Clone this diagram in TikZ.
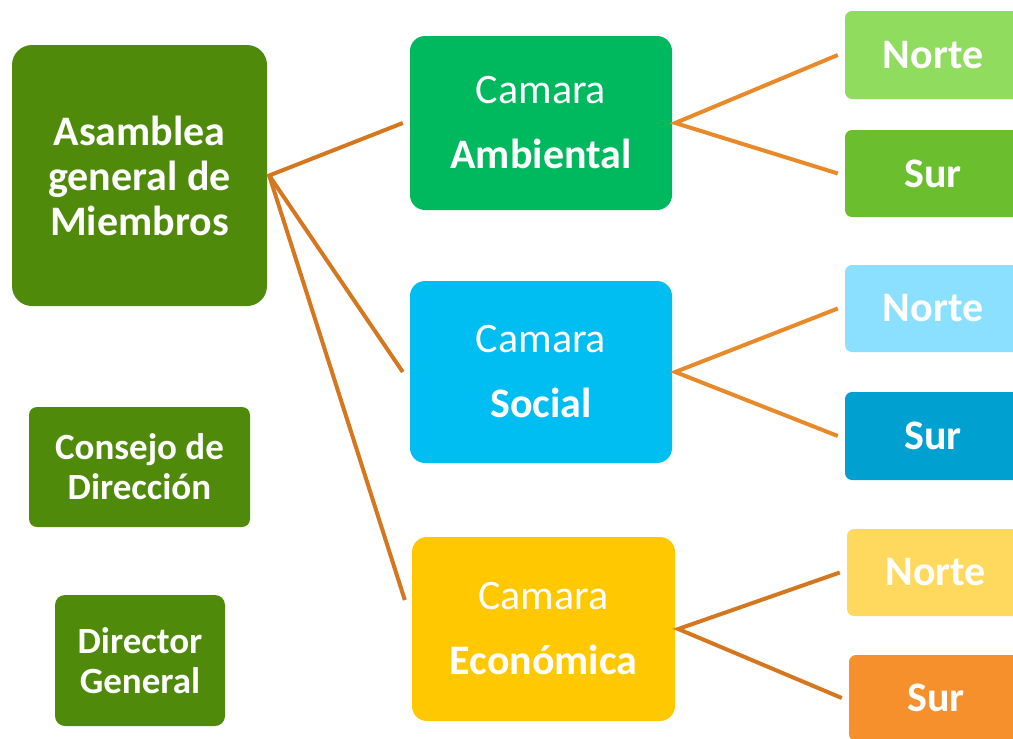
\documentclass[tikz,border=0pt]{standalone}
\usepackage{fontspec}
\setmainfont{Carlito}

\definecolor{verdeA}{HTML}{4F8A0B}
\definecolor{camAmb}{HTML}{00B85E}
\definecolor{camSoc}{HTML}{00BEF2}
\definecolor{camEco}{HTML}{FFC800}
\definecolor{norteAmb}{HTML}{8FDC5E}
\definecolor{surAmb}{HTML}{6BBF2F}
\definecolor{norteSoc}{HTML}{8CE0FF}
\definecolor{surSoc}{HTML}{00A1D0}
\definecolor{norteEco}{HTML}{FFD85E}
\definecolor{surEco}{HTML}{F6902D}
\definecolor{lineaOsc}{HTML}{D4771F}
\definecolor{lineaCla}{HTML}{E8892A}

\begin{document}
\begin{tikzpicture}[x=1pt, y=-1pt,
    box/.style={rounded corners=15pt, text=white, align=center, inner sep=0pt},
    bigbold/.style={font=\fontsize{42}{45}\selectfont\bfseries},
    camfont/.style={font=\fontsize{42}{65}\selectfont},
    smallbold/.style={font=\fontsize{37}{40}\selectfont\bfseries},
    zona/.style={box, rounded corners=7pt, minimum width=176pt, minimum height=87pt, bigbold},
    link/.style={line width=4pt}]
    % Page frame
    \useasboundingbox (0,0) rectangle (1013,739);
    \clip (0,0) rectangle (1013,739);

    % Left column
    \node[box, fill=verdeA, rounded corners=20pt, minimum width=255pt, minimum height=261pt, bigbold]
        (asamblea) at (139.5,175.5) {Asamblea\\general de\\Miembros};
    \node[box, fill=verdeA, rounded corners=8pt, minimum width=221pt, minimum height=120pt, smallbold]
        (consejo) at (139.5,467) {Consejo de\\Dirección};
    \node[box, fill=verdeA, rounded corners=10pt, minimum width=170pt, minimum height=131pt, smallbold]
        (director) at (140,660.5) {Director\\General};

    % Camaras
    \node[box, fill=camAmb, minimum width=262pt, minimum height=174pt, camfont]
        (amb) at (541,123) {Camara\\\textbf{Ambiental}};
    \node[box, fill=camSoc, minimum width=262pt, minimum height=182pt, camfont]
        (soc) at (541,372) {Camara\\\textbf{Social}};
    \node[box, fill=camEco, minimum width=263pt, minimum height=184pt, camfont]
        (eco) at (543.5,629) {Camara\\\textbf{Económica}};

    % Zonas
    \node[zona, fill=norteAmb, minimum height=88pt] (nAmb) at (933,55) {Norte};
    \node[zona, fill=surAmb] (sAmb) at (933,173.5) {Sur};
    \node[zona, fill=norteSoc] (nSoc) at (933,308.5) {Norte};
    \node[zona, fill=surSoc, minimum height=88pt] (sSoc) at (933,436) {Sur};
    \node[zona, fill=norteEco, minimum width=177pt] (nEco) at (935.5,572.5) {Norte};
    \node[zona, fill=surEco, minimum width=174pt, minimum height=86pt] (sEco) at (936,698) {Sur};

    % Links from the Asamblea
    \draw[link, lineaOsc] ([xshift=-7pt]amb.west) -- ([xshift=2pt]asamblea.east)
        -- ([xshift=-7pt]soc.west);
    \draw[link, lineaOsc] ([xshift=2pt]asamblea.east) -- ([xshift=-7pt, yshift=29pt]eco.west);

    % Links to the zonas
    \draw[link, lineaCla] ([xshift=-7pt]nAmb.west) -- ([xshift=3pt]amb.east) -- ([xshift=-7pt]sAmb.west);
    \draw[link, lineaCla] ([xshift=-7pt]nSoc.west) -- ([xshift=3pt]soc.east) -- ([xshift=-7pt]sSoc.west);
    \draw[link, lineaOsc] ([xshift=-7pt]nEco.west) -- ([xshift=3pt]eco.east) -- ([xshift=-7pt]sEco.west);
\end{tikzpicture}
\end{document}
